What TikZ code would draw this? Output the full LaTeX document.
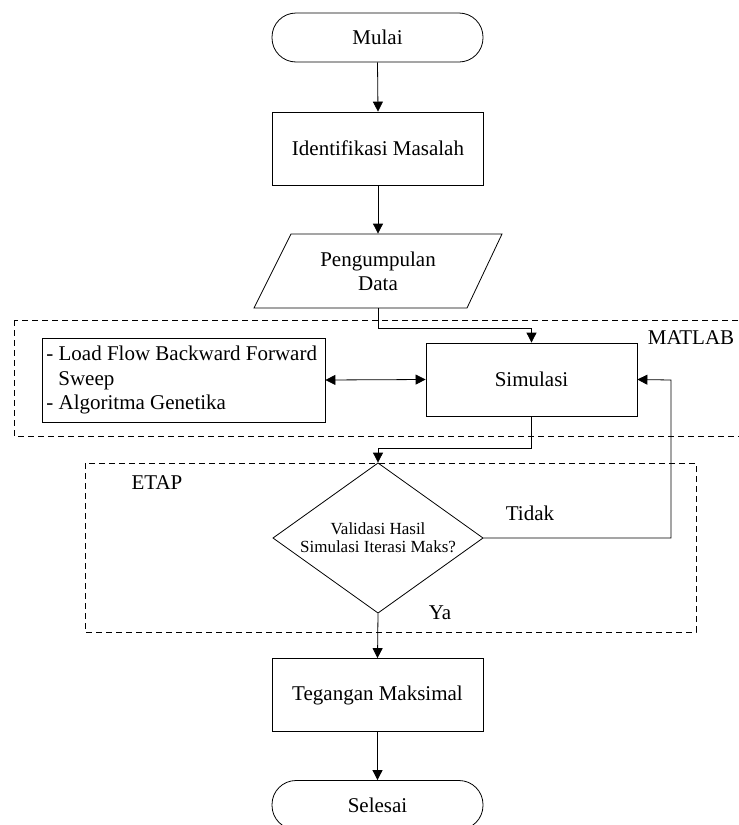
\documentclass[tikz,border=0pt]{standalone}
\usepackage{fontspec}
\setmainfont{Liberation Serif}
\usetikzlibrary{arrows.meta}
\begin{document}
\begin{tikzpicture}[x=1pt,y=-1pt,
  line width=0.8pt,
  base/.style={draw,inner sep=0pt,font=\fontsize{21}{24.5}\selectfont},
  term/.style={base,rounded corners=24pt,minimum width=211pt,minimum height=49pt},
  proc/.style={base,minimum width=211pt,minimum height=73pt},
  tip/.tip={Triangle[length=10pt,width=10pt]},
  arr/.style={-tip},
  darr/.style={tip-tip},
  region/.style={draw,dash pattern=on 6pt off 4pt,line width=0.7pt},
  lbl/.style={font=\fontsize{21}{24}\selectfont,inner sep=0pt}
]
\clip (0,0) rectangle (739,825);
\fill[white] (0,0) rectangle (739,825);
% regions
\draw[region] (14,320) rectangle (780,436);
\draw[region] (85,463) rectangle (696,632);
\node[lbl] (matlab) at (691,338) {MATLAB};
\node[lbl] (etap) at (157,483) {ETAP};
% nodes
\node[term] (mulai) at (377.5,37.5) {Mulai};
\node[proc] (ident) at (378,148.5) {Identifikasi Masalah};
\draw (291,234) -- (502,234) -- (467,308) -- (254,308) -- cycle;
\node[inner sep=0pt,minimum width=200pt,minimum height=74pt,align=center,
  font=\fontsize{21}{24}\selectfont] (pd) at (378,271) {Pengumpulan\\Data};
\node[base,minimum width=211pt,minimum height=73pt] (sim) at (531.5,379.5) {Simulasi};
\node[draw,inner sep=0pt,minimum width=283pt,minimum height=84pt] (algo) at (183.5,380) {};
\node[anchor=west,inner sep=0pt,align=left,font=\fontsize{21}{24.5}\selectfont]
  (algotxt) at (46,380) {- Load Flow Backward Forward\\\hspace*{12pt}Sweep\\- Algoritma Genetika};
\draw (273,538) -- (378,463) -- (483,538) -- (378,613) -- cycle;
\node[inner sep=0pt,minimum width=210pt,minimum height=150pt,align=center,
  font=\fontsize{17}{18}\selectfont] (dec) at (378,538)
  {Validasi Hasil\\Simulasi Iterasi Maks?};
\node[lbl] (tidak) at (530,513) {Tidak};
\node[lbl] (ya) at (440,613) {Ya};
\node[proc] (teg) at (377.5,695) {Tegangan Maksimal};
\node[term] (sel) at (377.5,805) {Selesai};
\coordinate (fb) at (671,380);
% connectors
\draw[arr] (mulai.south) -- (ident.north);
\draw[arr] (ident.south) -- (pd.north);
\draw[arr] (pd.south) -- ++(0,20) -| (sim.north);
\draw[darr] (algo.east) -- (sim.west);
\draw[arr] (sim.south) -- ++(0,32) -| (dec.north);
\draw[arr] (dec.east) -| (fb) -- (sim.east);
\draw[arr] (dec.south) -- (teg.north);
\draw[arr] (teg.south) -- (sel.north);
\end{tikzpicture}
\end{document}
